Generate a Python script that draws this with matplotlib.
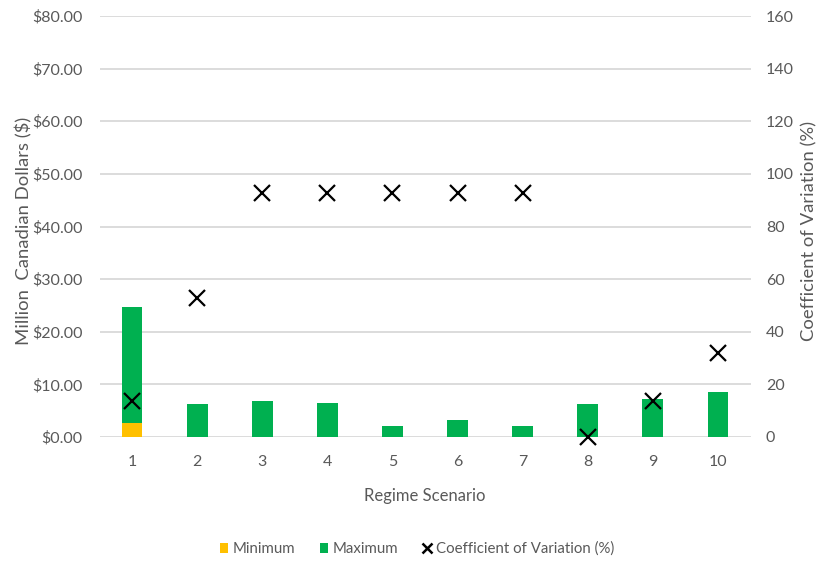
import matplotlib
matplotlib.use("Agg")
import matplotlib.pyplot as plt
from matplotlib.lines import Line2D
from matplotlib.patches import Patch
from matplotlib.ticker import FuncFormatter

plt.rcParams['font.family'] = ['Lato', 'DejaVu Sans']

scenarios = [1, 2, 3, 4, 5, 6, 7, 8, 9, 10]
minimum = [2.7, 0, 0, 0, 0, 0, 0, 0, 0, 0]
maximum = [24.7, 6.2, 6.8, 6.4, 2.15, 3.3, 2.0, 6.2, 7.2, 8.5]
cv_pct = [13.7, 52.7, 92.8, 92.8, 92.8, 92.8, 92.8, 0.0, 13.8, 32.1]

yellow = '#FFC000'
green = '#00B050'
grid_c = '#D9D9D9'
text_c = '#595959'

W, H = 819, 562
fig = plt.figure(figsize=(W / 100, H / 100), dpi=100)
ax_left, ax_right, ax_top, ax_bottom = 99.5, 750.5, 16, 437
ax = fig.add_axes([ax_left / W, 1 - ax_bottom / H,
                   (ax_right - ax_left) / W, (ax_bottom - ax_top) / H])

x = list(range(len(scenarios)))
width = 0.32
ax.bar(x, maximum, width=width, color=green, zorder=2)
ax.bar(x, minimum, width=width, color=yellow, zorder=3)

ax.set_xlim(-0.5, len(scenarios) - 0.5)
ax.set_ylim(0, 80)
ax.set_yticks(range(0, 81, 10))
ax.yaxis.set_major_formatter(FuncFormatter(lambda v, p: f"${v:.2f}"))
ax.set_xticks(x)
ax.set_xticklabels([str(s) for s in scenarios])
ax.grid(axis='y', color=grid_c, linewidth=1.3, zorder=0)
for s in ax.spines.values():
    s.set_visible(False)
ax.tick_params(axis='both', length=0, colors=text_c, labelsize=11.5)
ax.tick_params(axis='y', pad=12)
ax.tick_params(axis='x', pad=13)
ax.set_axisbelow(True)
ax.set_ylabel('Million  Canadian Dollars ($)', color=text_c, fontsize=13.3, va='center')
ax.yaxis.set_label_coords((24 - ax_left) / (ax_right - ax_left), 0.49)
ax.set_xlabel('Regime Scenario', color=text_c, fontsize=12, labelpad=14)

ax2 = ax.twinx()
ax2.set_ylim(0, 160)
ax2.set_yticks(range(0, 161, 20))
for s in ax2.spines.values():
    s.set_visible(False)
ax2.tick_params(axis='y', length=0, colors=text_c, labelsize=11.5, pad=11)
ax2.plot(x, cv_pct, linestyle='none', marker='x', color='black',
         markersize=11, markeredgewidth=1.6, zorder=5, clip_on=False)
ax2.set_ylabel('Coefficient of Variation (%)', color=text_c, fontsize=13.3, va='center')
ax2.yaxis.set_label_coords((809 - ax_left) / (ax_right - ax_left), 0.49)

handles = [
    Patch(facecolor=yellow, edgecolor='none'),
    Patch(facecolor=green, edgecolor='none'),
    Line2D([], [], linestyle='none', marker='x', color='black',
           markersize=7.5, markeredgewidth=1.8),
]
labels = ['Minimum', 'Maximum', 'Coefficient of Variation (%)']
fig.legend(handles, labels, loc='center', bbox_to_anchor=(417 / W, 1 - 549 / H),
           ncol=3, frameon=False, fontsize=10.8, labelcolor=text_c,
           handlelength=0.55, handleheight=0.6, handletextpad=0.35, columnspacing=1.6)

fig.savefig('out.png', dpi=100)
